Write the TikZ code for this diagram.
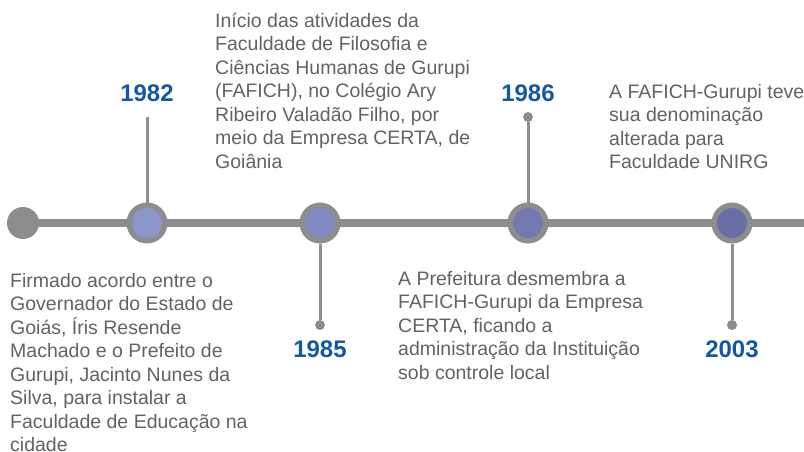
\documentclass[tikz,border=0pt]{standalone}
\usepackage{fontspec}
\setmainfont{Liberation Sans}
\definecolor{linegray}{RGB}{141,141,141}
\definecolor{textgray}{RGB}{98,98,98}
\definecolor{yearblue}{RGB}{22,88,160}
\definecolor{fill1982}{RGB}{139,150,205}
\definecolor{fill1985}{RGB}{127,136,192}
\definecolor{fill1986}{RGB}{115,121,176}
\definecolor{fill2003}{RGB}{105,110,166}
\tikzstyle{ev} = [circle, draw=linegray, line width=5.5pt, minimum size=35.5pt, inner sep=0]

\begin{document}
\begin{tikzpicture}[x=1pt,y=-1pt,
			bar/.style = {draw=linegray, line width=8pt},
			stem/.style = {draw=linegray, line width=3pt},
			tip/.style = {circle, fill=linegray, minimum size=10pt, inner sep=0},
			year/.style = {anchor=base, inner sep=0, text=yearblue, font=\fontsize{24}{28}\selectfont\bfseries},
			txt/.style = {anchor=base west, inner sep=0, align=left, text=textgray, font=\fontsize{19.5}{23.5}\selectfont}]
			\useasboundingbox (0,0) rectangle (804,451);
			
			\node (start) [circle, fill=linegray, minimum size=32pt, inner sep=0] at (23,223) {};
			\node (e1982) [ev, fill=fill1982] at (147,223) {};
			\node (e1985) [ev, fill=fill1985] at (320,223) {};
			\node (e1986) [ev, fill=fill1986] at (528,223) {};
			\node (e2003) [ev, fill=fill2003] at (732,223) {};
			\coordinate (end) at (804,223);
			\draw[bar, shorten <=-2pt, shorten >=-1pt] (start) -- (e1982);
			\draw[bar, shorten <=-1pt, shorten >=-1pt] (e1982) -- (e1985);
			\draw[bar, shorten <=-1pt, shorten >=-1pt] (e1985) -- (e1986);
			\draw[bar, shorten <=-1pt, shorten >=-1pt] (e1986) -- (e2003);
			\draw[bar, shorten <=-1pt] (e2003) -- (end);
			
			\coordinate (t1982) at (147,117);
			\node (t1985) [tip] at (320,325) {};
			\node (t1986) [tip] at (528,117) {};
			\node (t2003) [tip] at (732,325) {};
			\draw[stem] (e1982) -- (t1982);
			\draw[stem] (e1985) -- (t1985);
			\draw[stem] (e1986) -- (t1986);
			\draw[stem] (e2003) -- (t2003);
			
			\node (y1982) [year] at (147,101) {1982};
			\node (y1985) [year] at (320,357) {1985};
			\node (y1986) [year] at (528,101) {1986};
			\node (y2003) [year] at (732,357) {2003};
			
			% base anchor sits on the last line
			\node (d1982) [txt] at (10,451.5) {Firmado acordo entre o\\Governador do Estado de\\Goiás, Íris Resende\\Machado e o Prefeito de\\Gurupi, Jacinto Nunes da\\Silva, para instalar a\\Faculdade de Educação na\\cidade};
			\node (d1985) [txt] at (215,168) {Início das atividades da\\Faculdade de Filosofia e\\Ciências Humanas de Gurupi\\(FAFICH), no Colégio Ary\\Ribeiro Valadão Filho, por\\meio da Empresa CERTA, de\\Goiânia};
			\node (d1986) [txt] at (398,379) {A Prefeitura desmembra a\\FAFICH-Gurupi da Empresa\\CERTA, ficando a\\administração da Instituição\\sob controle local};
			\node (d2003) [txt] at (609,168.5) {A FAFICH-Gurupi teve\\sua denominação\\alterada para\\Faculdade UNIRG};
		\end{tikzpicture}
\end{document}
